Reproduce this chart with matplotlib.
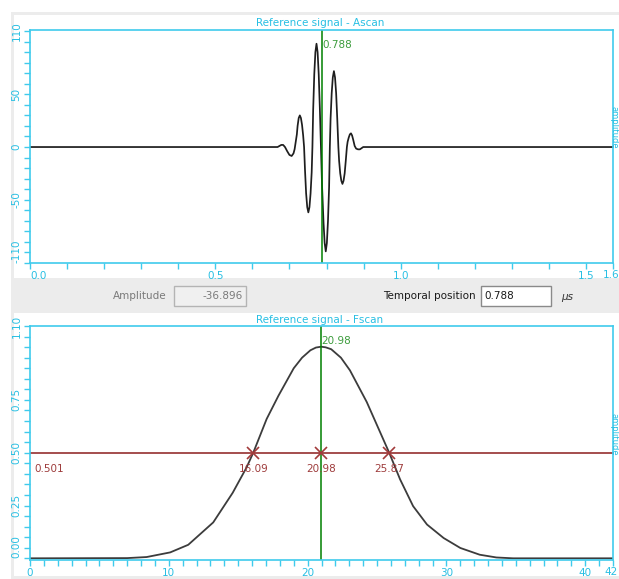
import matplotlib
matplotlib.use("Agg")
import matplotlib.pyplot as plt
from matplotlib.patches import Rectangle
import numpy as np

# ---- A-scan: reference pulse (time in µs, amplitude) ----
ascan_time = [0.000, 0.668, 0.673, 0.678, 0.683, 0.688, 0.694, 0.700, 0.706, 0.711,
              0.714, 0.717, 0.720, 0.722, 0.725, 0.728, 0.731, 0.734, 0.737, 0.7395,
              0.742, 0.745, 0.748, 0.751, 0.754, 0.757, 0.760, 0.762, 0.764, 0.767,
              0.770, 0.773, 0.776, 0.779, 0.782, 0.785, 0.788, 0.792, 0.795, 0.798,
              0.801, 0.804, 0.807, 0.809, 0.811, 0.814, 0.817, 0.820, 0.823, 0.826,
              0.829, 0.832, 0.834, 0.837, 0.840, 0.843, 0.846, 0.849, 0.852, 0.855,
              0.857, 0.860, 0.863, 0.866, 0.869, 0.872, 0.876, 0.880, 0.885, 0.890,
              0.895, 0.899, 1.573]
ascan_amp = [0, 0, 1, 2, 2, 0, -4, -7.5, -8.5, -6,
             -2, 5, 12, 20, 27.5, 30, 27.5, 21, 11, 0,
             -22, -44, -57, -62, -57, -44, -24, 0, 35, 69,
             90, 98, 90, 69, 37, 0, -36.9, -72, -91, -99,
             -91, -70, -38, 0, 27, 51, 66, 72, 66, 51,
             27, 0, -13, -25, -32, -35, -32, -25, -13, 0,
             5, 9, 12, 13, 11, 7, 1, -1.5, -2.2, -2.2,
             -1, 0, 0]
ascan_cursor = 0.788
ascan_cursor_amp = -36.896
ascan_xmax = 1.573
ascan_xticks = [0.0, 0.5, 1.0, 1.5]
ascan_xlabels = ["0.0", "0.5", "1.0", "1.5"]
ascan_end_label = "1.6"
ascan_yticks = [-110, -50, 0, 50, 110]
ascan_ylabels = ["-110", "-50", "0", "50", "110"]

# ---- F-scan: normalised spectrum (frequency in MHz) ----
fscan_freq = [0, 7.0, 8.4, 10.1, 11.4, 13.2, 14.6, 15.6, 16.09, 17.05, 17.9, 19.0,
              19.6, 20.2, 20.6, 20.98, 21.3, 21.7, 22.4, 23.05, 24.26, 25.87, 26.66,
              27.6, 28.6, 29.8, 31.0, 32.4, 33.6, 34.8, 42.0]
fscan_amp = [0, 0.001, 0.006, 0.028, 0.064, 0.17, 0.31, 0.43, 0.501, 0.66, 0.77, 0.90,
             0.95, 0.985, 0.998, 1.002, 0.999, 0.99, 0.95, 0.89, 0.74, 0.501, 0.374,
             0.247, 0.16, 0.096, 0.049, 0.017, 0.004, 0.0, 0.0]
fscan_peak = 20.98
half_level = 0.501
half_points = [16.09, 20.98, 25.87]
fscan_xmax = 42
fscan_xticks = [0, 10, 20, 30, 40]
fscan_xlabels = ["0", "10", "20", "30", "40"]
fscan_end_label = "42"
fscan_yticks = [0.0, 0.25, 0.50, 0.75, 1.10]
fscan_ylabels = ["0.00", "0.25", "0.50", "0.75", "1.10"]

CYAN = "#3fcbec"
CYAN_TXT = "#27bfe3"
GREEN = "#008000"
GREEN_TXT = "#3c9c3c"
DARKRED = "#8b1c1c"
RED_TXT = "#9e3c3c"
FONT = "DejaVu Sans"
FS = 7.5

W, H = 619, 579
fig = plt.figure(figsize=(W / 100, H / 100), dpi=100)
fig.patch.set_facecolor("white")


def px_rect(x0, y0, x1, y1, **kw):
    """Rectangle given in pixel coordinates measured from the top-left corner."""
    r = Rectangle((x0 / W, 1 - y1 / H), (x1 - x0) / W, (y1 - y0) / H,
                  transform=fig.transFigure, **kw)
    fig.patches.append(r)
    return r


def px_text(x, y, s, **kw):
    kw.setdefault("fontsize", FS)
    kw.setdefault("family", FONT)
    return fig.text(x / W, 1 - y / H, s, **kw)


# window background and the two white plot panels
px_rect(11, 12, W + 2, H + 2, facecolor="#ececec", edgecolor="none", zorder=-10)
px_rect(14, 15, W + 2, 278, facecolor="white", edgecolor="none", zorder=-9)
px_rect(14, 313, W + 2, 576, facecolor="white", edgecolor="none", zorder=-9)


def style_axes(ax):
    ax.set_facecolor("none")
    for s in ax.spines.values():
        s.set_color(CYAN)
        s.set_linewidth(1.2)
    ax.tick_params(which="both", direction="out", colors=CYAN, labelcolor=CYAN_TXT,
                   labelsize=FS, length=4, width=1.0, pad=2)
    for lab in ax.get_xticklabels() + ax.get_yticklabels():
        lab.set_family(FONT)


# ---------------- A-scan ----------------
ax1 = fig.add_axes([30 / W, 1 - 263 / H, 583 / W, 233 / H])
ax1.plot(ascan_time, ascan_amp, color="#1e1e1e", lw=1.25, solid_joinstyle="round")
ax1.axvline(ascan_cursor, color=GREEN, lw=1.1)
ax1.set_xlim(0, ascan_xmax)
ax1.set_ylim(-109, 111)
ax1.set_xticks(ascan_xticks + [ascan_xmax])
ax1.set_xticklabels(ascan_xlabels + [""])
ax1.set_xticks(np.arange(0.1, 1.5, 0.1), minor=True)
ax1.set_yticks(ascan_yticks)
ax1.set_yticklabels(ascan_ylabels, rotation=90, va="center")
ax1.set_yticks(np.arange(-100, 110, 10), minor=True)
style_axes(ax1)
ax1.get_xticklabels()[0].set_ha("left")
ax1.get_yticklabels()[0].set_va("bottom")
ax1.text(ascan_cursor, 0.935, f"{ascan_cursor:.3f}", transform=ax1.get_xaxis_transform(),
         color=GREEN_TXT, fontsize=FS, family=FONT, ha="left", va="center")
px_text(611, 275, ascan_end_label, color=CYAN_TXT, ha="center", va="center")
px_text(320, 23, "Reference signal - Ascan", color=CYAN_TXT, ha="center", va="center")
px_text(618.5, 106, "amplitude", color=CYAN_TXT, rotation=-90, ha="right", va="top",
        fontsize=6)

# ---------------- controls strip ----------------
px_text(167, 296, "Amplitude", color="#7a7a7a", ha="right", va="center")
px_rect(174, 286, 246, 306, facecolor="#f0f0f0", edgecolor="#b4b4b4", lw=1.0, zorder=-5)
px_text(243, 296, f"{ascan_cursor_amp:.3f}", color="#7a7a7a", ha="right", va="center")
px_text(476, 296, "Temporal position", color="#1a1a1a", ha="right", va="center")
px_rect(481, 286, 551, 306, facecolor="white", edgecolor="#8a8a8a", lw=1.0, zorder=-5)
px_text(484, 296, f"{ascan_cursor:.3f}", color="#1a1a1a", ha="left", va="center")
px_text(561, 297, "µs", color="#333333", ha="left", va="center", style="italic")

# ---------------- F-scan ----------------
ax2 = fig.add_axes([30 / W, 1 - 560 / H, 583 / W, 234 / H])
ax2.plot(fscan_freq, fscan_amp, color="#3c3c3c", lw=1.3, solid_joinstyle="round")
ax2.axhline(half_level, color=DARKRED, lw=1.1)
ax2.axvline(fscan_peak, color=GREEN, lw=1.1)
ax2.plot(half_points, [half_level] * len(half_points), linestyle="none", marker="x",
         markersize=9, mew=1.2, color="#a23b3b")
for f in half_points:
    ax2.annotate(f"{f:.2f}", (f, half_level), xytext=(0, -12), textcoords="offset points",
                 color=RED_TXT, fontsize=FS, family=FONT, ha="center", va="center")
ax2.annotate(f"{half_level:.3f}", (0, half_level), xytext=(3, -12), textcoords="offset points",
             color=RED_TXT, fontsize=FS, family=FONT, ha="left", va="center")
ax2.text(fscan_peak, 0.935, f"{fscan_peak:.2f}", transform=ax2.get_xaxis_transform(),
         color=GREEN_TXT, fontsize=FS, family=FONT, ha="left", va="center")
ax2.set_xlim(0, fscan_xmax)
ax2.set_ylim(-0.008, 1.10)
ax2.set_xticks(fscan_xticks + [fscan_xmax])
ax2.set_xticklabels(fscan_xlabels + [""])
ax2.set_xticks(np.arange(1, 42, 1), minor=True)
ax2.set_yticks(fscan_yticks)
ax2.set_yticklabels(fscan_ylabels, rotation=90, va="center")
ax2.set_yticks(np.arange(0.05, 1.10, 0.05), minor=True)
style_axes(ax2)
ax2.get_yticklabels()[0].set_va("bottom")
px_text(611, 572, fscan_end_label, color=CYAN_TXT, ha="center", va="center")
px_text(320, 320, "Reference signal - Fscan", color=CYAN_TXT, ha="center", va="center")
px_text(618.5, 413, "amplitude", color=CYAN_TXT, rotation=-90, ha="right", va="top",
        fontsize=6)

fig.savefig("out.png", dpi=100, facecolor="white")
